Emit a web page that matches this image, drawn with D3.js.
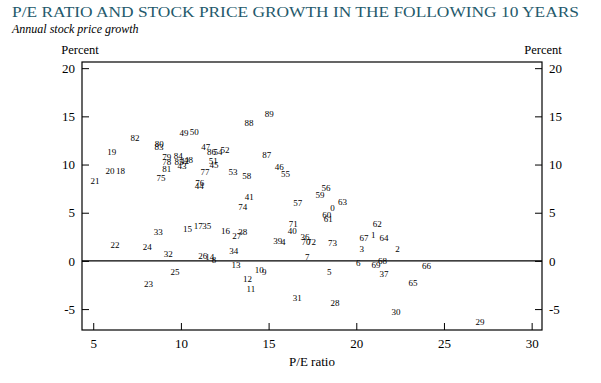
<!DOCTYPE html>
<html>
<head>
<meta charset="utf-8">
<script src="https://cdn.jsdelivr.net/npm/d3@7"></script>
<style>
  body { margin: 0; background: #fff; }
  text { font-family: "Liberation Serif", "DejaVu Serif", serif; }
</style>
</head>
<body>
<div id="holder"></div>
<script>
const w = 601;
const h = 383;
const margin = { top: 62, right: 59, bottom: 53, left: 82 };

// Year labels (19xx) with P/E ratio and following 10-year growth (percent)
const years = [
  "0","1","2","3","4","5","6","7","8","9",
  "10","11","12","13","14","15","16","17","18","19",
  "20","21","22","23","24","25","26","27","28","29",
  "30","31","32","33","34","35","36","37","38","39",
  "40","41","42","43","44","45","46","47","48","49",
  "50","51","52","53","54","55","56","57","58","59",
  "60","61","62","63","64","65","66","67","68","69",
  "70","71","72","73","74","75","76","77","78","79",
  "80","81","82","83","84","85","86","87","88","89"
];
const peRatio = [
  18.65, 20.97, 22.35, 20.31, 15.83, 18.46, 20.11, 17.20, 11.88, 14.75,
  14.47, 13.99, 13.80, 13.14, 11.65, 10.38, 12.54, 10.99, 6.56, 6.05,
  5.95, 5.10, 6.24, 8.15, 8.08, 9.66, 11.24, 13.18, 18.78, 27.05,
  22.26, 16.64, 9.28, 8.71, 13.02, 11.47, 17.07, 21.58, 13.52, 15.52,
  16.35, 13.90, 10.20, 10.06, 11.04, 11.88, 15.61, 11.41, 10.43, 10.17,
  10.76, 11.84, 12.51, 12.97, 12.11, 15.97, 18.27, 16.66, 13.75, 17.93,
  18.31, 18.40, 21.20, 19.22, 21.58, 23.23, 24.01, 20.44, 21.50, 21.12,
  17.13, 16.41, 17.44, 18.65, 13.52, 8.86, 11.08, 11.37, 9.19, 9.19,
  8.76, 9.19, 7.38, 8.75, 9.85, 9.89, 11.75, 14.89, 13.88, 15.04
];
const growth = [
  5.47, 2.70, 1.22, 1.22, 1.94, -1.14, -0.24, 0.45, 0.10, -1.11,
  -0.93, -2.91, -1.90, -0.42, 0.45, 3.29, 3.12, 3.64, 9.35, 11.35,
  9.35, 8.24, 1.66, -2.42, 1.42, -1.14, 0.52, 2.60, -4.39, -6.30,
  -5.35, -3.84, 0.70, 3.04, 1.04, 3.64, 2.52, -1.38, 2.98, 2.11,
  3.12, 6.68, 10.39, 9.87, 7.76, 9.90, 9.79, 11.87, 10.49, 13.26,
  13.37, 10.39, 11.46, 9.21, 11.29, 9.04, 7.55, 6.06, 8.83, 6.85,
  4.78, 4.33, 3.81, 6.16, 2.36, -2.32, -0.49, 2.36, 0.03, -0.42,
  1.97, 3.81, 1.97, 1.84, 5.58, 8.59, 8.05, 9.21, 10.31, 10.83,
  12.15, 9.52, 12.74, 11.77, 10.91, 10.31, 11.35, 11.01, 14.30, 15.27
];
const xTicks = [5, 10, 15, 20, 25, 30];
const yTicks = [-5, 0, 5, 10, 15, 20];

const points = years.map((d, i) => ({ year: d, pe: peRatio[i], g: growth[i] }));

const svg = d3.select("#holder")
  .append("svg")
  .attr("width", w)
  .attr("height", h);

const x = d3.scaleLinear()
  .domain([4.36, 30.59])
  .range([margin.left, w - margin.right]);

const y = d3.scaleLinear()
  .domain([-7.17, 20.64])
  .range([h - margin.bottom, margin.top]);

// Title and subtitle
svg.append("text")
  .attr("x", 12)
  .attr("y", 17)
  .attr("fill", "#24596b")
  .attr("font-size", 15.5)
  .attr("textLength", 567)
  .attr("lengthAdjust", "spacingAndGlyphs")
  .text("P/E RATIO AND STOCK PRICE GROWTH IN THE FOLLOWING 10 YEARS");

svg.append("text")
  .attr("x", 12)
  .attr("y", 33)
  .attr("font-style", "italic")
  .attr("font-size", 12)
  .text("Annual stock price growth");

// "Percent" labels
svg.append("text")
  .attr("x", 80)
  .attr("y", 54)
  .attr("text-anchor", "middle")
  .attr("font-size", 12.5)
  .text("Percent");

svg.append("text")
  .attr("x", 543)
  .attr("y", 54)
  .attr("text-anchor", "middle")
  .attr("font-size", 12.5)
  .text("Percent");

// Axes (plain hyphen for negatives, as in the original)
const fmt = d => String(d);
const xAxis = d3.axisBottom(x).tickValues(xTicks).tickFormat(fmt).tickSize(-7).tickPadding(9);
const yAxisL = d3.axisLeft(y).tickValues(yTicks).tickFormat(fmt).tickSize(-7).tickPadding(7);
const yAxisR = d3.axisRight(y).tickValues(yTicks).tickFormat(fmt).tickSize(-7).tickPadding(7);

function styleAxis(g) {
  g.select(".domain").remove();
  g.selectAll("text")
    .attr("font-size", 13)
    .attr("font-family", "'Liberation Serif', serif")
    .attr("fill", "#000");
  g.selectAll("line").attr("stroke", "#000");
}

svg.append("g")
  .attr("transform", `translate(0,${h - margin.bottom})`)
  .call(xAxis)
  .call(styleAxis);

svg.append("g")
  .attr("transform", `translate(${margin.left},0)`)
  .call(yAxisL)
  .call(styleAxis);

svg.append("g")
  .attr("transform", `translate(${w - margin.right},0)`)
  .call(yAxisR)
  .call(styleAxis);

// Zero line
svg.append("line")
  .attr("x1", margin.left)
  .attr("x2", w - margin.right)
  .attr("y1", y(0))
  .attr("y2", y(0))
  .attr("stroke", "#000")
  .attr("stroke-width", 1.2);

// Frame
svg.append("rect")
  .attr("x", margin.left)
  .attr("y", margin.top)
  .attr("width", w - margin.left - margin.right)
  .attr("height", h - margin.top - margin.bottom)
  .attr("fill", "none")
  .attr("stroke", "#000")
  .attr("stroke-width", 1.2);

// Year labels
svg.selectAll(".yr")
  .data(points)
  .join("text")
  .attr("class", "yr")
  .attr("x", d => x(d.pe))
  .attr("y", d => y(d.g))
  .attr("text-anchor", "middle")
  .attr("dominant-baseline", "central")
  .attr("font-size", 9)
  .text(d => d.year);

// x axis title
svg.append("text")
  .attr("x", 312)
  .attr("y", 366)
  .attr("text-anchor", "middle")
  .attr("font-size", 13)
  .text("P/E ratio");
</script>
</body>
</html>
